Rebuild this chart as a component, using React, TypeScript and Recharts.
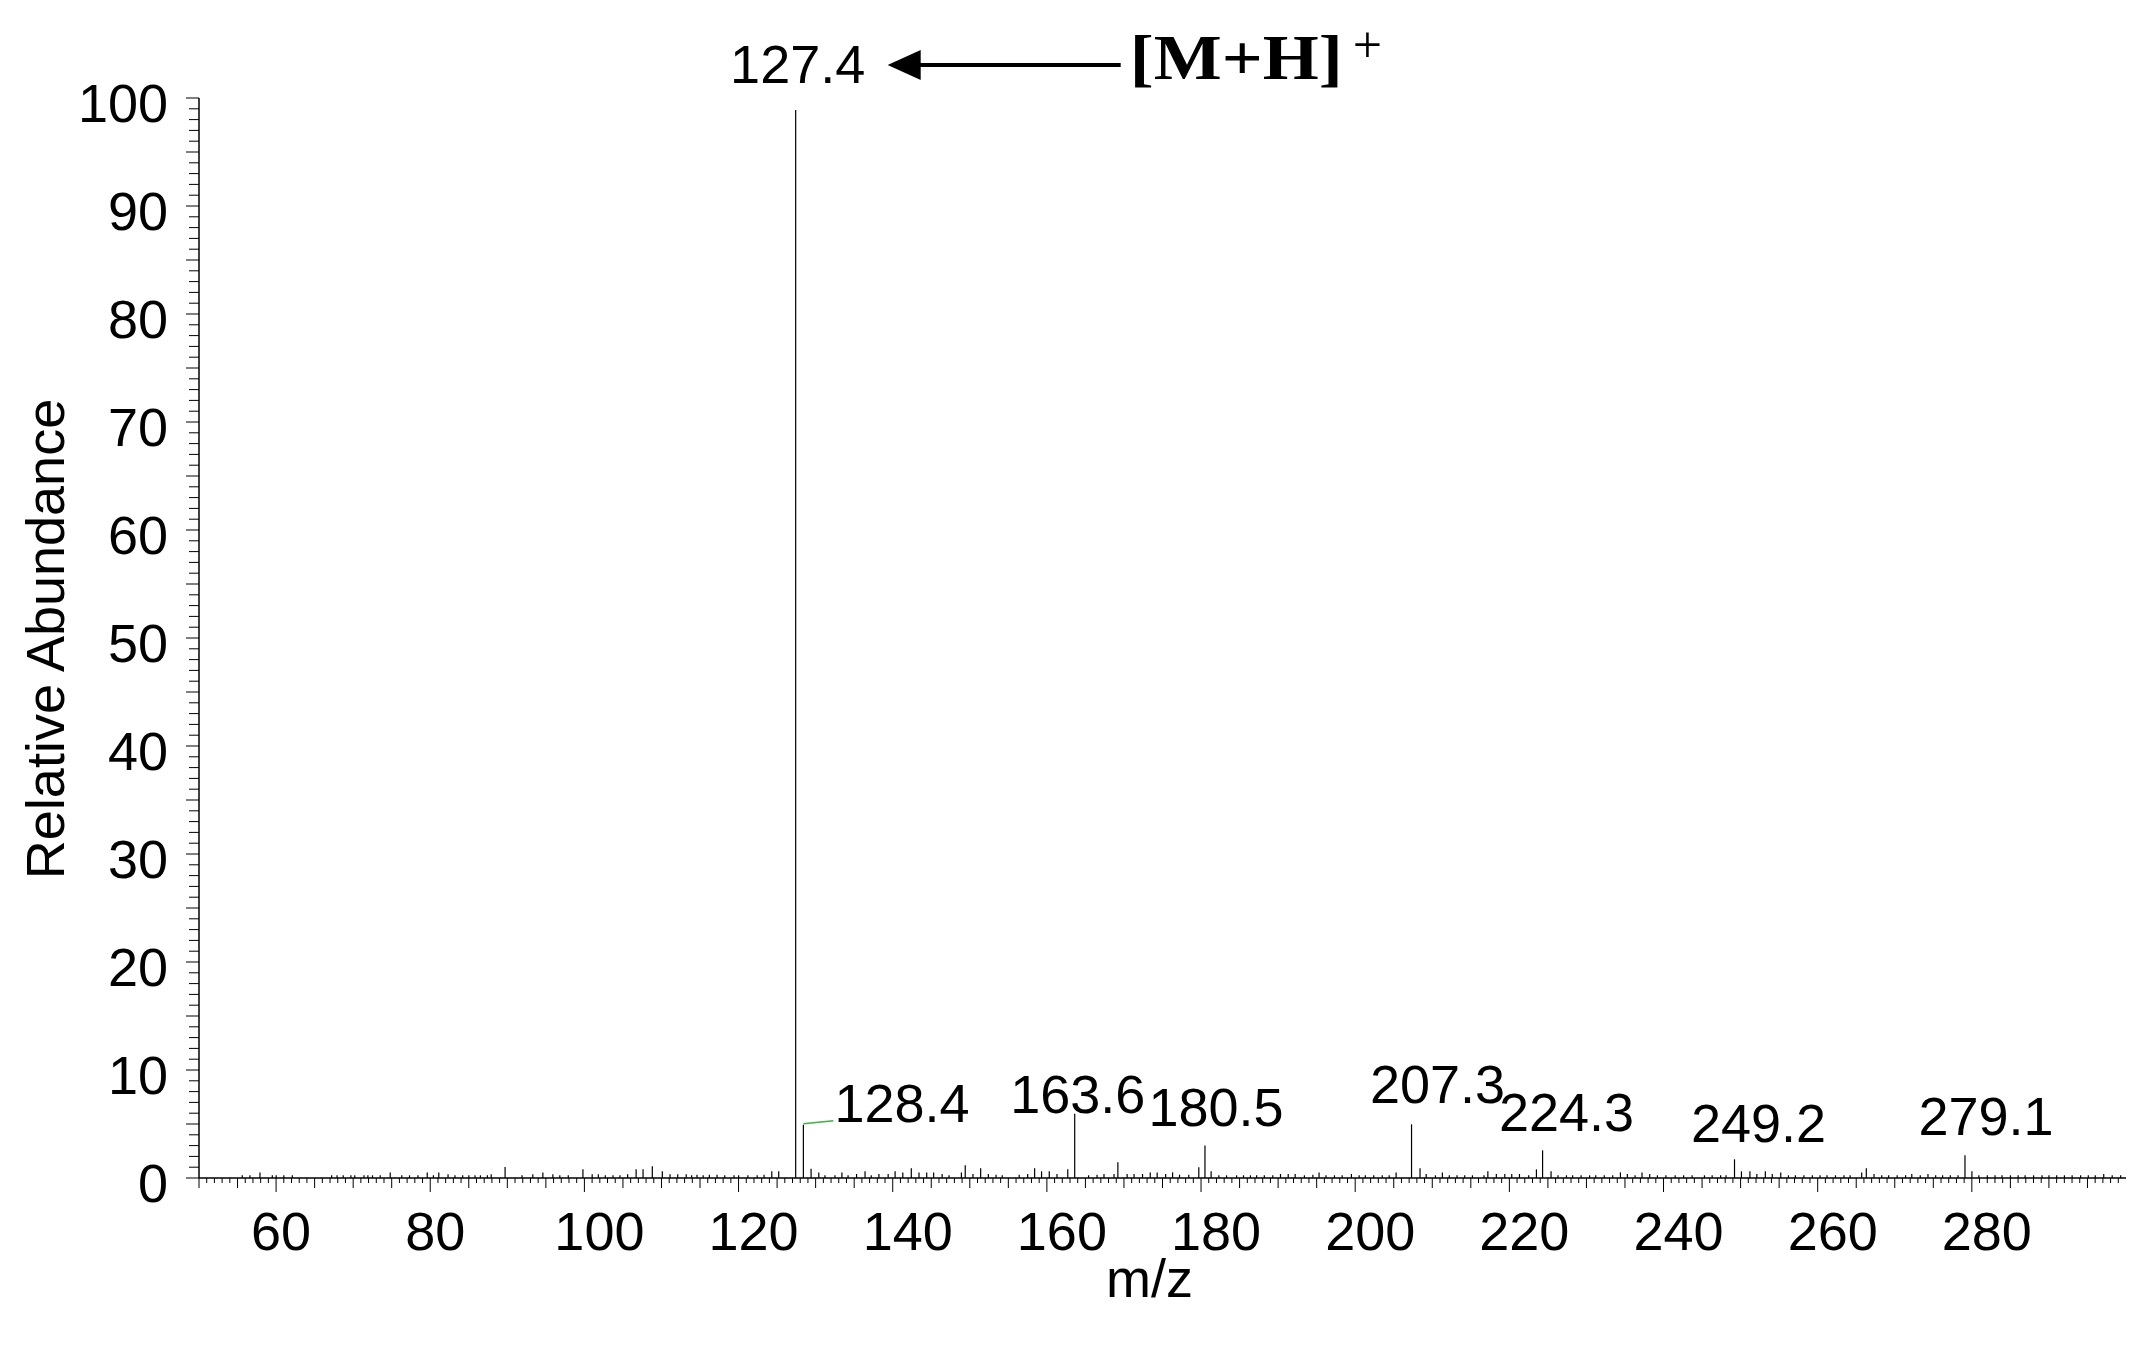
import { ComposedChart, Bar, XAxis, YAxis, LabelList, Label } from 'recharts'

// labelled peaks: [m/z, relative abundance %]
const labeledPeaks: [number, number][] = [
  [127.4, 98.9],
  [128.4, 4.94],
  [163.6, 5.96],
  [180.5, 3.02],
  [207.3, 4.97],
  [224.3, 2.56],
  [249.2, 1.73],
  [279.1, 2.1],
]

// small background peaks
const noisePeaks: [number, number][] = [
  [55.6, 0.25], [56.6, 0.25], [57.9, 0.52], [59.5, 0.25], [60.0, 0.25], [61.0, 0.25], [62.1, 0.25],
  [67.2, 0.25], [67.9, 0.25], [68.7, 0.25], [69.7, 0.25], [70.2, 0.25], [71.4, 0.25], [71.9, 0.25],
  [72.5, 0.25], [73.5, 0.25], [74.8, 0.52], [76.3, 0.25], [77.3, 0.25], [78.4, 0.25], [79.6, 0.52],
  [80.4, 0.25], [81.1, 0.52], [82.3, 0.34], [83.2, 0.25], [84.2, 0.25], [85.0, 0.25], [85.8, 0.25],
  [86.5, 0.25], [87.4, 0.25], [87.9, 0.34], [89.7, 1.02], [91.9, 0.25], [93.3, 0.34], [94.6, 0.52],
  [95.9, 0.34], [96.8, 0.25], [97.9, 0.25], [99.8, 0.8], [101.0, 0.34], [101.8, 0.34], [102.7, 0.25],
  [103.7, 0.25], [104.6, 0.25], [105.6, 0.34], [106.7, 0.8], [107.6, 0.8], [108.8, 1.08], [110.1, 0.62],
  [111.1, 0.34], [112.1, 0.34], [113.2, 0.34], [113.9, 0.25], [114.6, 0.31], [115.4, 0.25], [116.2, 0.31],
  [117.2, 0.31], [118.2, 0.25], [119.4, 0.25], [120.0, 0.25], [121.2, 0.25], [122.4, 0.25], [123.3, 0.31],
  [124.3, 0.62], [125.2, 0.62], [129.4, 0.86], [130.4, 0.52], [131.2, 0.25], [132.5, 0.25], [133.4, 0.52],
  [134.2, 0.25], [135.3, 0.37], [136.4, 0.62], [137.2, 0.25], [138.2, 0.37], [139.4, 0.37], [140.3, 0.62],
  [141.3, 0.52], [142.4, 0.9], [143.4, 0.52], [144.4, 0.52], [145.3, 0.52], [146.4, 0.37], [147.3, 0.25],
  [148.9, 0.52], [149.4, 1.17], [150.4, 0.37], [151.4, 0.9], [152.4, 0.37], [153.4, 0.31], [154.2, 0.25],
  [156.4, 0.31], [157.5, 0.37], [158.4, 0.9], [159.3, 0.62], [160.3, 0.62], [161.3, 0.37], [162.7, 0.8],
  [165.4, 0.25], [166.5, 0.31], [167.4, 0.37], [168.7, 0.37], [169.2, 1.45], [170.4, 0.37], [171.3, 0.37],
  [172.4, 0.37], [173.4, 0.52], [174.3, 0.52], [175.4, 0.37], [176.3, 0.52], [177.2, 0.31], [178.4, 0.31],
  [179.7, 1.0], [181.3, 0.62], [182.3, 0.25], [183.3, 0.25], [184.6, 0.25], [185.5, 0.25], [186.4, 0.25],
  [187.2, 0.25], [188.2, 0.25], [189.3, 0.25], [190.3, 0.37], [191.3, 0.37], [192.2, 0.37], [193.4, 0.25],
  [194.5, 0.31], [195.3, 0.52], [196.2, 0.25], [197.3, 0.25], [198.3, 0.25], [199.5, 0.37], [200.5, 0.25],
  [201.3, 0.25], [202.4, 0.25], [203.5, 0.25], [204.4, 0.25], [205.3, 0.52], [208.4, 0.9], [209.2, 0.37],
  [210.4, 0.25], [211.3, 0.52], [212.2, 0.25], [213.2, 0.25], [214.2, 0.25], [215.2, 0.25], [216.7, 0.25],
  [217.2, 0.62], [218.3, 0.37], [219.4, 0.37], [220.3, 0.37], [221.3, 0.37], [222.5, 0.25], [223.5, 0.8],
  [225.4, 0.62], [226.3, 0.25], [227.4, 0.25], [228.2, 0.25], [229.3, 0.25], [230.4, 0.25], [231.2, 0.25],
  [232.3, 0.25], [233.4, 0.25], [234.4, 0.52], [235.3, 0.37], [236.3, 0.25], [237.2, 0.52], [238.2, 0.37],
  [239.2, 0.25], [240.3, 0.25], [241.5, 0.25], [242.6, 0.25], [243.7, 0.25], [245.3, 0.25], [246.3, 0.25],
  [247.4, 0.25], [248.1, 0.25], [250.1, 0.62], [251.2, 0.62], [252.1, 0.37], [253.2, 0.62], [254.1, 0.37],
  [255.2, 0.52], [256.2, 0.25], [257.1, 0.25], [258.2, 0.25], [259.3, 0.25], [260.3, 0.25], [261.2, 0.25],
  [262.3, 0.25], [263.4, 0.25], [264.2, 0.25], [265.7, 0.52], [266.3, 0.9], [267.3, 0.37], [268.3, 0.25],
  [269.2, 0.25], [270.3, 0.25], [271.4, 0.25], [272.2, 0.37], [273.3, 0.25], [274.3, 0.37], [275.3, 0.25],
  [276.2, 0.25], [277.2, 0.25], [278.2, 0.25], [280.0, 0.62], [280.9, 0.25], [282.0, 0.25], [283.0, 0.25],
  [283.9, 0.25], [285.0, 0.25], [286.0, 0.25], [286.9, 0.25], [288.0, 0.25], [289.1, 0.25], [290.0, 0.25],
  [291.0, 0.25], [292.0, 0.25], [293.0, 0.25], [294.1, 0.25], [295.1, 0.25], [296.0, 0.25], [297.1, 0.37],
  [298.2, 0.25], [299.3, 0.25],
]

const xTickLabels = [60, 80, 100, 120, 140, 160, 180, 200, 220, 240, 260, 280]
const yTickLabels = [0, 10, 20, 30, 40, 50, 60, 70, 80, 90, 100]
const baseIon = '127.4'
const ionText = '[M+H]'
const ionCharge = '+'

const FONT = '"Liberation Sans", Arial, sans-serif'
const SERIF = '"Liberation Serif", "Times New Roman", serif'
const NUM_SIZE = 54

// minor ticks every 1 unit along both axes
const xMinorTicks: number[] = []
for (let v = 50; v < 300; v++) xMinorTicks.push(v)
const yMinorTicks: number[] = []
for (let v = 0; v <= 100; v++) yMinorTicks.push(v)

const chartData = [
  ...labeledPeaks.map(([mz, ab]) => ({ mz, abundance: ab, label: mz.toFixed(1) })),
  ...noisePeaks.map(([mz, ab]) => ({ mz, abundance: ab, label: undefined as string | undefined })),
].sort((a, b) => a.mz - b.mz)

// label offsets from the stick top (dx of text centre, dy of baseline)
const labelNudge: Record<string, [number, number]> = {
  '127.4': [2, -27],
  '163.6': [3, -1],
  '180.5': [11, -19],
  '207.3': [26, -21],
  '224.3': [24, -19],
  '249.2': [24, -17],
  '279.1': [21, -20],
}

function XTick({ x, y, payload }: any) {
  const v = payload.value
  const len = v % 20 === 0 ? 14 : v % 5 === 0 ? 10 : 5
  // the original's labels sit a little right of their ticks, more so for 3 digits
  const shift = String(v).length === 3 ? 15 : 5
  return (
    <g>
      <line x1={x} x2={x} y1={y} y2={y + len} stroke="#000" strokeWidth={1} />
      {xTickLabels.includes(v) && (
        <text x={x + shift} y={y + 72} textAnchor="middle" fontFamily={FONT} fontSize={NUM_SIZE} fill="#000">
          {v}
        </text>
      )}
    </g>
  )
}

function YTick({ x, y, payload }: any) {
  const v = payload.value
  const len = v % 5 === 0 ? 13 : 10
  return (
    <g>
      <line x1={x - len} x2={x} y1={y} y2={y} stroke="#000" strokeWidth={1} />
      {yTickLabels.includes(v) && (
        <text x={x - 31} y={y + 24} textAnchor="end" fontFamily={FONT} fontSize={NUM_SIZE} fill="#000">
          {v}
        </text>
      )}
    </g>
  )
}

function PeakStick(props: any) {
  const { x, y, width, height } = props
  if (x == null || y == null) return null
  const cx = x + width / 2
  return <line x1={cx} x2={cx} y1={y} y2={y + height} stroke="#000" strokeWidth={1.2} />
}

function PeakLabel(props: any) {
  const { value } = props
  if (!value) return null
  const vb = props.viewBox ?? props
  const cx = vb.x + vb.width / 2
  const top = Math.min(vb.y, vb.y + vb.height)

  if (value === '128.4') {
    return (
      <g>
        <line x1={cx} y1={top - 1} x2={cx + 30} y2={top - 4} stroke="#3cb043" strokeWidth={1.5} />
        <text x={cx + 31} y={top - 3} fontFamily={FONT} fontSize={NUM_SIZE} fill="#000">
          {value}
        </text>
      </g>
    )
  }

  const [dx, dy] = labelNudge[value] ?? [0, -8]
  const label = (
    <text x={cx + dx} y={top + dy} textAnchor="middle" fontFamily={FONT} fontSize={NUM_SIZE} fill="#000">
      {value}
    </text>
  )
  if (value !== baseIon) return label

  // arrow pointing back at the base peak from the ion annotation
  const ay = top - 45
  return (
    <g>
      {label}
      <polygon
        points={`${cx + 92},${ay} ${cx + 125},${ay - 15} ${cx + 125},${ay + 15}`}
        fill="#000"
      />
      <line x1={cx + 120} x2={cx + 325} y1={ay} y2={ay} stroke="#000" strokeWidth={4} />
      <text
        x={cx + 334}
        y={top - 31}
        fontFamily={SERIF}
        fontWeight="bold"
        fontSize={64}
        textLength={213}
        lengthAdjust="spacingAndGlyphs"
        fill="#000"
      >
        {ionText}
      </text>
      <text x={cx + 557} y={top - 48} fontFamily={SERIF} fontSize={52} fill="#000">
        {ionCharge}
      </text>
    </g>
  )
}

function XTitle(props: any) {
  const vb = props.viewBox
  return (
    <text x={vb.x + vb.width / 2 - 13} y={vb.y + 119} textAnchor="middle" fontFamily={FONT} fontSize={NUM_SIZE} fill="#000">
      m/z
    </text>
  )
}

function YTitle(props: any) {
  const vb = props.viewBox
  const x = vb.x + 64
  const y = vb.y + vb.height / 2 + 1
  return (
    <text
      x={x}
      y={y}
      transform={`rotate(-90, ${x}, ${y})`}
      textAnchor="middle"
      fontFamily={FONT}
      fontSize={NUM_SIZE}
      fill="#000"
    >
      Relative Abundance
    </text>
  )
}

export default function App() {
  return (
    <div style={{ position: 'absolute', left: 0, top: 0, width: 2156, height: 1347, background: '#fff' }}>
      <ComposedChart
        width={2156}
        height={1347}
        data={chartData}
        margin={{ top: 98, right: 30, bottom: 0, left: 0 }}
      >
        <XAxis
          dataKey="mz"
          type="number"
          domain={[50, 300]}
          allowDataOverflow
          ticks={xMinorTicks}
          interval={0}
          tick={<XTick />}
          tickLine={false}
          tickSize={0}
          tickMargin={0}
          height={169}
          axisLine={{ stroke: '#000', strokeWidth: 1.5 }}
          label={<Label content={<XTitle />} />}
        />
        <YAxis
          type="number"
          domain={[0, 100]}
          allowDataOverflow
          ticks={yMinorTicks}
          interval={0}
          tick={<YTick />}
          tickLine={false}
          tickSize={0}
          tickMargin={0}
          width={199}
          axisLine={{ stroke: '#000', strokeWidth: 1.5 }}
          label={<Label content={<YTitle />} />}
        />
        <Bar dataKey="abundance" barSize={2} shape={<PeakStick />} isAnimationActive={false}>
          <LabelList dataKey="label" content={<PeakLabel />} />
        </Bar>
      </ComposedChart>
    </div>
  )
}
